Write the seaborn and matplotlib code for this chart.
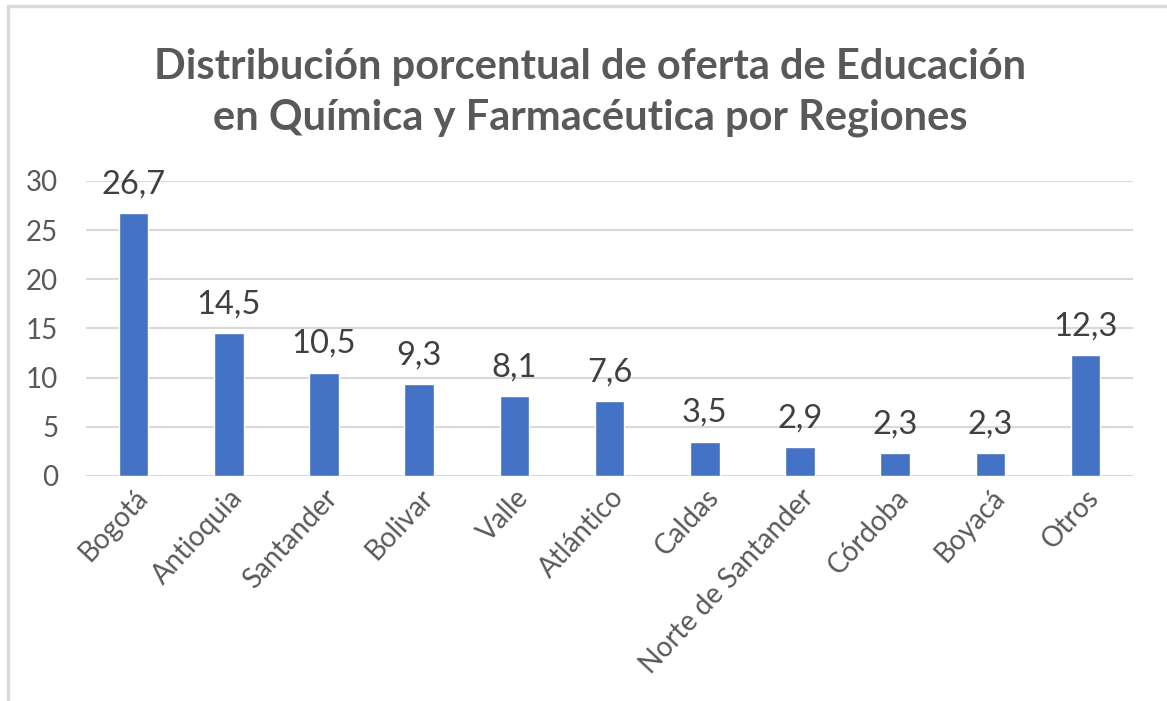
import matplotlib
matplotlib.use("Agg")
import matplotlib.pyplot as plt
import seaborn as sns
import pandas as pd
from matplotlib.lines import Line2D

# Data
regiones = ["Bogotá", "Antioquia", "Santander", "Bolivar", "Valle", "Atlántico",
            "Caldas", "Norte de Santander", "Córdoba", "Boyacá", "Otros"]
porcentaje = [26.7, 14.5, 10.5, 9.3, 8.1, 7.6, 3.5, 2.9, 2.3, 2.3, 12.3]
yticks = [0, 5, 10, 15, 20, 25, 30]

df = pd.DataFrame({"Region": regiones, "Porcentaje": porcentaje})

sns.set_style("white")
plt.rcParams["font.family"] = ["Lato", "DejaVu Sans"]

gris = "#595959"
fig = plt.figure(figsize=(11.67, 7.01), dpi=100)
ax = fig.add_axes([0.0737, 0.321, 0.8973, 0.421])

sns.barplot(data=df, x="Region", y="Porcentaje", color="#4472C4", width=0.31,
            saturation=1, ax=ax, zorder=3)

ax.set_ylim(0, 30)
ax.set_yticks(yticks)
ax.set_xlim(-0.5, len(regiones) - 0.5)
ax.yaxis.grid(True, color="#D9D9D9", linewidth=1.5, zorder=0)
ax.set_axisbelow(True)
for s in ax.spines.values():
    s.set_visible(False)
ax.set_xlabel("")
ax.set_ylabel("")
ax.tick_params(axis="both", length=0, labelsize=20, labelcolor=gris)
ax.tick_params(axis="y", pad=20)
ax.tick_params(axis="x", pad=6)
plt.setp(ax.get_xticklabels(), rotation=47, ha="right", rotation_mode="anchor")

# value labels
for i, v in enumerate(porcentaje):
    ax.annotate(f"{v:.1f}".replace(".", ","), (i, v), xytext=(0, 10),
                textcoords="offset points", ha="center", va="bottom",
                fontsize=23.5, color="#404040", clip_on=False)

fig.text(0.506, 0.868, "Distribución porcentual de oferta de Educación\nen Química y Farmacéutica por Regiones",
         ha="center", va="center", fontsize=30, fontweight="bold", color=gris,
         linespacing=1.4)

# outer frame (top and left edges)
fig.add_artist(Line2D([0.007, 1.0], [0.991, 0.991], transform=fig.transFigure,
                      color="#D9D9D9", linewidth=2.5))
fig.add_artist(Line2D([0.007, 0.007], [0.0, 0.991], transform=fig.transFigure,
                      color="#D9D9D9", linewidth=2.5))

fig.savefig("out.png", dpi=100, facecolor="white")
